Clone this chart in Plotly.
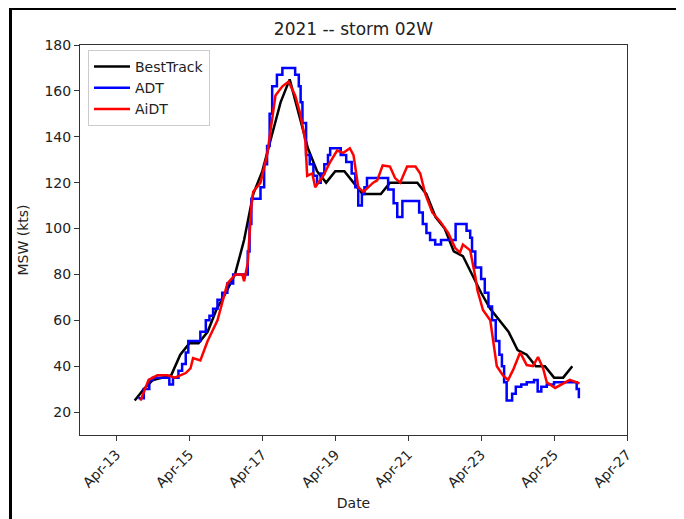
import numpy as np
import pandas as pd
import plotly.graph_objects as go

# ---------------- data ----------------
title_text = "2021 -- storm 02W"
series_names = ["BestTrack", "ADT", "AiDT"]
series_colors = ["#000000", "#0000ff", "#ff0000"]

# Best track: 6-hourly from 2021-04-13 12Z
best_start = "2021-04-13 12:00"
best_values = [25, 30, 34, 35, 36, 45, 50, 50, 55, 65, 72, 80, 95, 115, 125, 140,
               155, 165, 150, 135, 125, 120, 125, 125, 120, 115, 115, 115, 120, 120,
               120, 120, 115, 105, 100, 90, 88, 80, 72, 65, 60, 55, 47, 45, 40, 40,
               35, 35, 40]

# ADT: day of April (fractional) and intensity (kts), staircase
adt_days = [13.60, 13.75, 13.90, 14.00, 14.45, 14.55, 14.70, 14.80, 14.90, 14.97,
            15.30, 15.45, 15.55, 15.65, 15.77, 15.90, 16.04, 16.20, 16.60, 16.65,
            16.70, 16.95, 17.05, 17.13, 17.20, 17.27, 17.40, 17.55, 17.90, 18.00,
            18.05, 18.10, 18.20, 18.30, 18.40, 18.50, 18.60, 18.70, 18.80, 18.86,
            19.15, 19.30, 19.45, 19.55, 19.63, 19.73, 19.80, 19.87, 20.45, 20.60,
            20.70, 20.84, 21.30, 21.40, 21.50, 21.60, 21.74, 21.90, 22.30, 22.60,
            22.70, 22.75, 22.84, 23.00, 23.10, 23.20, 23.30, 23.40, 23.50, 23.57,
            23.63, 23.70, 23.85, 23.95, 24.10, 24.25, 24.45, 24.55, 24.65, 24.80,
            25.00, 25.62, 25.68]
adt_values = [26, 30, 34, 35, 32, 35, 38, 41, 46, 51,
              55, 60, 62, 65, 69, 72, 76, 80, 90, 102,
              113, 118, 128, 136, 150, 162, 167, 170, 167, 162,
              155, 146, 132, 128, 123, 120, 124, 128, 132, 135,
              132, 129, 124, 118, 110, 115, 118, 122, 117, 111,
              105, 112, 107, 102, 98, 95, 93, 95, 102, 99,
              96, 90, 83, 78, 72, 66, 60, 51, 45, 40,
              33, 25, 28, 31, 32, 33, 34, 29, 31, 32,
              33, 30, 26]

# AiDT: day of April (fractional) and intensity (kts)
aidt_days = [13.66, 13.88, 14.12, 14.40, 14.60, 14.90, 15.03, 15.10, 15.30, 15.50,
             15.77, 15.93, 16.04, 16.26, 16.45, 16.50, 16.60, 16.70, 16.75, 16.95,
             17.13, 17.36, 17.55, 17.72, 17.90, 18.04, 18.18, 18.23, 18.37, 18.45,
             18.67, 18.86, 19.05, 19.22, 19.40, 19.50, 19.63, 19.77, 20.04, 20.15,
             20.30, 20.50, 20.64, 20.78, 20.97, 21.20, 21.33, 21.47, 21.66, 21.88,
             22.10, 22.29, 22.42, 22.50, 22.70, 22.84, 22.90, 23.05, 23.25, 23.43,
             23.60, 23.74, 23.88, 24.07, 24.25, 24.42, 24.56, 24.70, 24.80, 25.03,
             25.25, 25.43, 25.70]
aidt_values = [25, 34, 36, 36, 35, 37, 39, 43.5, 42.5, 51,
               60, 70, 76, 80, 80, 77, 85, 110, 116, 120,
               132, 158, 162, 164, 158, 150, 138, 123, 124, 118,
               123, 129, 134, 133, 135, 132, 118, 116, 120, 121,
               127.5, 127, 122, 120, 127, 127, 124, 115, 107, 103,
               98, 91.5, 89.5, 93, 90.5, 79, 73, 64.5, 60, 40,
               36, 34, 38.5, 46, 40.5, 40, 44, 39, 33, 30.5,
               32.5, 34, 32.5]

x_range = ["2021-04-12", "2021-04-27"]
y_range = [10, 180]
y_ticks = [20, 40, 60, 80, 100, 120, 140, 160, 180]
x_tick_dates = ["2021-04-13", "2021-04-15", "2021-04-17", "2021-04-19",
                "2021-04-21", "2021-04-23", "2021-04-25", "2021-04-27"]
x_tick_labels = ["Apr-13", "Apr-15", "Apr-17", "Apr-19",
                 "Apr-21", "Apr-23", "Apr-25", "Apr-27"]


def april_days_to_dt(days):
    base = pd.Timestamp("2021-04-01")
    return base + pd.to_timedelta(np.array(days) - 1.0, unit="D")


best_times = pd.date_range(best_start, periods=len(best_values), freq="6h")
adt_times = april_days_to_dt(adt_days)
aidt_times = april_days_to_dt(aidt_days)

FONT = "DejaVu Sans"

fig = go.Figure()
fig.add_trace(go.Scatter(x=best_times, y=best_values, mode="lines", name=series_names[0],
                         line=dict(color=series_colors[0], width=2.5)))
fig.add_trace(go.Scatter(x=adt_times, y=adt_values, mode="lines", name=series_names[1],
                         line=dict(color=series_colors[1], width=2.5, shape="hv")))
fig.add_trace(go.Scatter(x=aidt_times, y=aidt_values, mode="lines", name=series_names[2],
                         line=dict(color=series_colors[2], width=2.5)))

# page is offset by the browser's 8px body margin
OFF = 8
W, H = 684 - OFF, 519 - OFF
L, R, T, B = 80 - OFF, 627 - OFF, 45 - OFF, 435 - OFF
pw, ph = R - L, B - T


def px_to_paper_x(px):
    return (px - OFF - L) / pw


def px_to_paper_y(py):
    return (B - (py - OFF)) / ph


fig.update_layout(
    width=W, height=H,
    margin=dict(l=L, r=W - R, t=T, b=H - B, pad=0),
    paper_bgcolor="white", plot_bgcolor="white",
    font=dict(family=FONT, size=14, color="#222222"),
    title=dict(text=title_text, x=px_to_paper_x(353.5), xref="paper", xanchor="center",
               y=1 - (29 - OFF) / H, yanchor="middle", font=dict(size=17, color="#222222")),
    showlegend=True,
    legend=dict(x=px_to_paper_x(88), y=px_to_paper_y(50), xanchor="left", yanchor="top",
                bgcolor="white", bordercolor="#cccccc", borderwidth=1,
                font=dict(size=14), itemwidth=36),
    xaxis=dict(range=x_range, tickvals=x_tick_dates, ticktext=x_tick_labels,
               tickangle=-45, ticks="outside", ticklen=5, tickcolor="#333333",
               showgrid=False, zeroline=False, showline=True, linecolor="#333333",
               linewidth=1, mirror=True,
               title=dict(text="Date", standoff=8, font=dict(size=14))),
    yaxis=dict(range=y_range, tickvals=y_ticks, ticks="outside", ticklen=5,
               tickcolor="#333333", showgrid=False, zeroline=False, showline=True,
               linecolor="#333333", linewidth=1, mirror=True,
               title=dict(text="MSW (kts)", standoff=12, font=dict(size=14))),
)

# screenshot frame lines (left and top)
fig.add_shape(type="line", xref="paper", yref="paper",
              x0=px_to_paper_x(10.5), x1=px_to_paper_x(10.5),
              y0=px_to_paper_y(8), y1=px_to_paper_y(530),
              line=dict(color="black", width=3))
fig.add_shape(type="line", xref="paper", yref="paper",
              x0=px_to_paper_x(9), x1=px_to_paper_x(700),
              y0=px_to_paper_y(8.5), y1=px_to_paper_y(8.5),
              line=dict(color="black", width=3))

fig.write_html("out.html")
